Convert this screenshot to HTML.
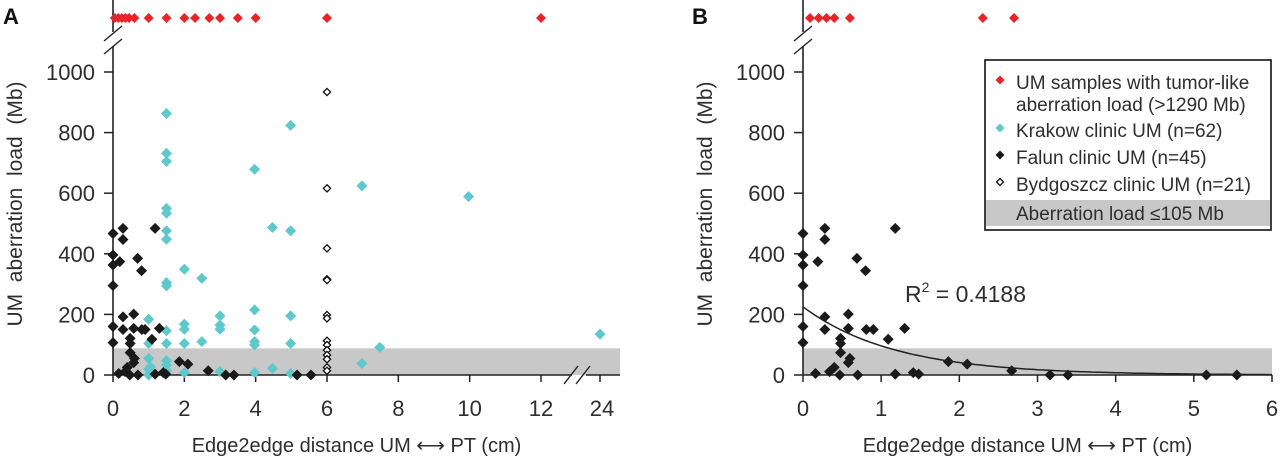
<!DOCTYPE html>
<html><head><meta charset="utf-8">
<style>
html,body{margin:0;padding:0;background:#fff;}
svg{display:block;font-family:"Liberation Sans",Arial,sans-serif;}
</style></head>
<body>
<svg id="chart" width="1280" height="463" viewBox="0 0 1280 463" xmlns="http://www.w3.org/2000/svg"></svg>
<script>
// ---------------- DATA ----------------
const yTicks = [0,200,400,600,800,1000];
const xTicksA = [0,2,4,6,8,10,12];
const xTicksB = [0,1,2,3,4,5,6];
const bandLimit = 88;
const redX_A = [0.05,0.15,0.25,0.35,0.45,0.6,1,1.5,2,2.3,2.7,3,3.5,4,6,12];
const redX_B = [0.09,0.2,0.3,0.4,0.6,2.3,2.7];
const falunX = [0,0.28,0.28,0,0,0.19,0.69,0.8,1.18,0,0.28,0.58,0,0,0.28,0.58,0.81,0.9,1.3,0.48,0.48,1.09,0.48,0.58,1.86,2.1,0.16,0.34,0.47,0.7,1.18,1.41,1.48,2.67,3.16,3.39,5.16,5.55,0.4,0.6];
const falunY = [467,484,447,396,363,374,385,344,484,295,192,201,160,107,150,154,150,150,154,121,104,118,74,41,44,36,5,11,0,0,3,8,3,14,0,0,0,0,25,55];
const krakowX = [1.5,4.98,1.5,1.5,3.97,6.98,9.97,1.5,1.5,1.5,1.5,4.47,4.98,2,2.49,1.5,1.5,3.97,3,4.98,1,2,2,3,3,3.97,1.5,24,2.49,1,1.5,2,3.97,3.97,4.98,7.48,1,1.5,1.5,6.98,1,1,1.5,2,3,3.97,4.47,4.98,1.05];
const krakowY = [863,824,732,705,679,624,589,550,534,476,448,487,476,349,319,305,294,215,195,195,184,168,151,165,151,149,146,135,110,104,104,104,110,99,104,91,55,47,33,38,19,0,14,8,11,8,22,5,27];
const bydX = [6,6,6,6,6,6,6,6,6,6,6,6,6,6];
const bydY = [934,616,418,316,313,198,187,113,99,82,66,52,25,14];
const fitA = 225, fitK = 0.85;
const r2Label = "0.4188";

// ---------------- SCALES ----------------
const Y0 = 375, YPX = 60.6/200;
const yS = v => Y0 - v*YPX;
const xA = v => v <= 12 ? 113 + v*(541-113)/12 : 600 + (v-24)*5;
const xB = v => 803 + v*(1272-803)/6;
const RED_Y = 18;
const TXT = '#2e2e2e';

const svg = document.getElementById('chart');
const NS = 'http://www.w3.org/2000/svg';
function mk(tag, attrs, parent){
  const e = document.createElementNS(NS, tag);
  for (const k in attrs) e.setAttribute(k, attrs[k]);
  (parent||svg).appendChild(e);
  return e;
}
function txt(s, x, y, size, anchor, parent){
  const t = mk('text', {x:x, y:y, 'font-size':size, 'text-anchor':anchor||'middle', fill:TXT}, parent);
  t.textContent = s;
  return t;
}
function diamond(cx, cy, r, fill, stroke, parent){
  return mk('path', {d:`M${cx},${cy-r}L${cx+r},${cy}L${cx},${cy+r}L${cx-r},${cy}Z`, fill:fill, stroke:stroke||'none', 'stroke-width':1.3}, parent);
}

function panel(id, xS, xTicks, xMax, yAxisX, labelX, letter){
  const g = mk('g', {});
  
  
  const band = mk('rect', {x:yAxisX, y:yS(bandLimit), width:xMax-yAxisX, height:yS(0)-yS(bandLimit), fill:'#c8c8c8'}, g);
  
  
  const L = txt(letter, labelX, 24, 22, 'start', g);
  L.setAttribute('font-weight', 'bold');
  L.setAttribute('fill', '#111');
  
  
  const ya = mk('g', {}, g);
  
  
  mk('line', {x1:yAxisX, y1:0, x2:yAxisX, y2:32, stroke:'#222', 'stroke-width':1.6}, ya);
  mk('line', {x1:yAxisX, y1:46, x2:yAxisX, y2:Y0, stroke:'#222', 'stroke-width':1.6}, ya);
  mk('line', {x1:yAxisX-9, y1:41, x2:yAxisX+9, y2:26, stroke:'#222', 'stroke-width':1.4}, ya);
  mk('line', {x1:yAxisX-9, y1:54, x2:yAxisX+9, y2:39, stroke:'#222', 'stroke-width':1.4}, ya);
  yTicks.forEach(v => {
    mk('line', {x1:yAxisX-9, y1:yS(v), x2:yAxisX, y2:yS(v), stroke:'#222', 'stroke-width':1.5}, ya);
    const t = txt(String(v), yAxisX-18, yS(v)+8, 22, 'end', ya);
    
    
  });
  const yt = txt('UM\u00a0\u00a0aberration\u00a0\u00a0load\u00a0\u00a0(Mb)', 0, 0, 21, 'middle', ya);
  yt.setAttribute('transform', `translate(${yAxisX-91},204) rotate(-90)`);
  
  
  const xa = mk('g', {}, g);
  
  
  xTicks.forEach(v => {
    mk('line', {x1:xS(v), y1:Y0, x2:xS(v), y2:Y0+7, stroke:'#222', 'stroke-width':1.5}, xa);
    const t = txt(String(v), xS(v), 416, 22, 'middle', xa);
    
    
  });
  const xt = txt('Edge2edge distance UM \u27F7 PT (cm)', (yAxisX+xMax)/2 - 10, 452, 20, 'middle', xa);
  
  
  return {g, xa};
}

// ---------- Panel A ----------
const A = panel('a', xA, xTicksA, 620, 113, 3, 'A');
mk('line', {x1:113, y1:Y0, x2:572, y2:Y0, stroke:'#222', 'stroke-width':1.6}, A.xa);
mk('line', {x1:586, y1:Y0, x2:620, y2:Y0, stroke:'#222', 'stroke-width':1.6}, A.xa);
mk('line', {x1:564, y1:384, x2:578, y2:366, stroke:'#222', 'stroke-width':1.4}, A.xa);
mk('line', {x1:576, y1:384, x2:590, y2:366, stroke:'#222', 'stroke-width':1.4}, A.xa);
mk('line', {x1:600, y1:Y0, x2:600, y2:Y0+7, stroke:'#222', 'stroke-width':1.5}, A.xa);
{ const t = txt('24', 602, 416, 22, 'middle', A.xa);
  
   }

krakowX.forEach((x,i) => {
  const d = diamond(xA(x), yS(krakowY[i]), 5.5, '#5ec8cc', null, A.g);
  
  
});
falunX.forEach((x,i) => {
  const d = diamond(xA(x), yS(falunY[i]), 5.5, '#1a1a1a', null, A.g);
  
  
});
bydX.forEach((x,i) => {
  const d = diamond(xA(x), yS(bydY[i]), 3.6, '#fff', '#111', A.g);
  
  
});
redX_A.forEach(x => {
  const d = diamond(xA(x), RED_Y, 5, '#e8232a', null, A.g);
  
  
});

// ---------- Panel B ----------
const B = panel('b', xB, xTicksB, 1272, 803, 692, 'B');
mk('line', {x1:803, y1:Y0, x2:1272, y2:Y0, stroke:'#222', 'stroke-width':1.6}, B.xa);
falunX.forEach((x,i) => {
  if (x > 6) return;
  const d = diamond(xB(x), yS(falunY[i]), 5.5, '#1a1a1a', null, B.g);
  
  
});
redX_B.forEach(x => {
  const d = diamond(xB(x), RED_Y, 5, '#e8232a', null, B.g);
  
  
});
let pts = [];
for (let i=0;i<=120;i++){ const x = 6*i/120; pts.push(`${xB(x).toFixed(1)},${yS(fitA*Math.exp(-fitK*x)).toFixed(1)}`); }
const fit = mk('polyline', {points:pts.join(' '), fill:'none', stroke:'#222', 'stroke-width':1.5}, B.g);


const r2 = mk('text', {x:905, y:302, 'font-size':23, fill:TXT}, B.g);


r2.innerHTML = 'R<tspan dy="-10" font-size="14">2</tspan><tspan dy="10"> = ' + r2Label + '</tspan>';

// ---------- Legend ----------
const lg = mk('g', {});


mk('rect', {x:985, y:60, width:286, height:170, fill:'#fff', stroke:'#111', 'stroke-width':1.6}, lg);
mk('rect', {x:986, y:200, width:284, height:26, fill:'#c8c8c8'}, lg);
const entries = [
  ['#e8232a', null, 'UM samples with tumor-like', 89],
  [null, null, 'aberration load (>1290 Mb)', 111],
  ['#5ec8cc', null, 'Krakow clinic UM (n=62)', 137],
  ['#1a1a1a', null, 'Falun clinic UM (n=45)', 164],
  ['#fff', '#111', 'Bydgoszcz clinic UM (n=21)', 191],
  [null, null, 'Aberration load \u2264105 Mb', 220]
];
entries.forEach(e => {
  const row = mk('g', {}, lg);
  
  
  if (e[0]) diamond(1000, e[3]-9, e[1] ? 3.5 : 4.5, e[0], e[1], row);
  txt(e[2], 1016, e[3], 19, 'start', row);
});
</script>
</body></html>
